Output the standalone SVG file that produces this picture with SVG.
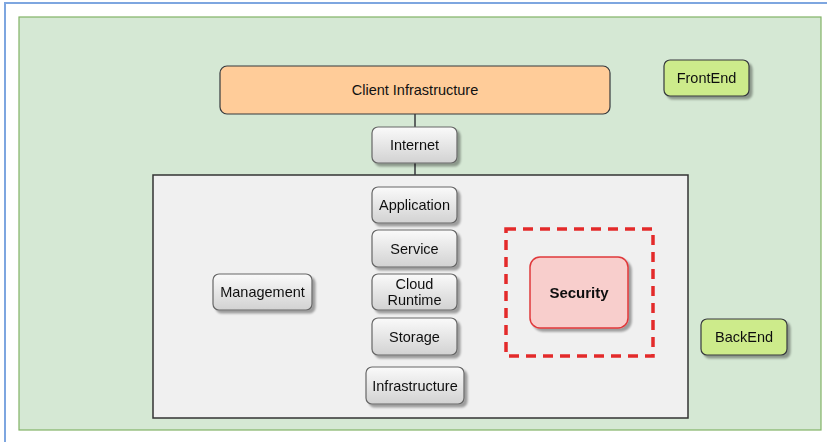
<svg xmlns="http://www.w3.org/2000/svg" width="827" height="442" viewBox="0 0 827 442">
<defs>
<linearGradient id="gray" x1="0" y1="0" x2="0" y2="1">
<stop offset="0" stop-color="#fafafa"/>
<stop offset="1" stop-color="#d2d2d2"/>
</linearGradient>
<filter id="sh" x="-20%" y="-20%" width="150%" height="160%">
<feGaussianBlur in="SourceAlpha" stdDeviation="1.2"/>
<feOffset dx="2.5" dy="3" result="b"/>
<feComponentTransfer><feFuncA type="linear" slope="0.35"/></feComponentTransfer>
<feMerge><feMergeNode/><feMergeNode in="SourceGraphic"/></feMerge>
</filter>
</defs>
<style>
.t{font-family:"Liberation Sans",Arial,sans-serif;font-size:14.5px;fill:#111;text-anchor:middle;dominant-baseline:central}
.g{fill:url(#gray);stroke:#666;stroke-width:1.2}
.gr{fill:#cdeb8b;stroke:#36393d;stroke-width:1.2}
.c{stroke:#36393d;stroke-width:1.5;fill:none}
</style>
<rect x="5" y="3" width="830" height="445" fill="#fff" stroke="#7ea6e0" stroke-width="2"/>
<g id="frontend-zone"><rect x="19" y="17" width="802" height="413" fill="#d5e8d4" stroke="#82b366" stroke-width="1.2"/></g>
<g id="backend-zone"><rect x="153" y="175" width="535" height="243" fill="#f0f0f0" stroke="#333" stroke-width="1.5"/></g>
<g id="connectors">
<path class="c" d="M415 114V127"/>
<path class="c" d="M415 163V175"/>
</g>
<g id="client"><rect x="220" y="66" width="390" height="48" rx="7" fill="#ffcc99" stroke="#36393d" stroke-width="1.2"/><text class="t" x="415" y="90">Client Infrastructure</text></g>
<g id="internet" filter="url(#sh)"><rect class="g" x="372" y="127" width="85" height="36" rx="6"/><text class="t" x="414.5" y="145">Internet</text></g>
<g id="frontend" filter="url(#sh)"><rect class="gr" x="664" y="60" width="85" height="36" rx="6"/><text class="t" x="706.5" y="78">FrontEnd</text></g>
<g id="application" filter="url(#sh)"><rect class="g" x="372" y="187" width="85" height="36" rx="6"/><text class="t" x="414.5" y="205">Application</text></g>
<g id="service" filter="url(#sh)"><rect class="g" x="372" y="230" width="85" height="37" rx="6"/><text class="t" x="414.5" y="248.5">Service</text></g>
<g id="cloud-runtime" filter="url(#sh)"><rect class="g" x="372" y="274" width="85" height="36" rx="6"/><text class="t" x="414.5" y="284">Cloud</text><text class="t" x="414.5" y="300">Runtime</text></g>
<g id="management" filter="url(#sh)"><rect class="g" x="213" y="274" width="99" height="36" rx="6"/><text class="t" x="262.5" y="292">Management</text></g>
<g id="storage" filter="url(#sh)"><rect class="g" x="372" y="318" width="85" height="37" rx="6"/><text class="t" x="414.5" y="336.5">Storage</text></g>
<g id="infrastructure" filter="url(#sh)"><rect class="g" x="366" y="367" width="98" height="37" rx="6"/><text class="t" x="415" y="385.5">Infrastructure</text></g>
<g id="security-zone"><rect x="506" y="229" width="147" height="127" fill="none" stroke="#e32a2a" stroke-width="3.5" stroke-dasharray="10 7"/></g>
<g id="security" filter="url(#sh)"><rect x="530" y="257" width="98" height="71" rx="10" fill="#f8cecc" stroke="#e0393b" stroke-width="1.5"/><text class="t" x="579" y="292.5" font-weight="bold" font-size="15px" style="font-size:15px">Security</text></g>
<g id="backend" filter="url(#sh)"><rect class="gr" x="701" y="319" width="86" height="36" rx="6"/><text class="t" x="744" y="337">BackEnd</text></g>
</svg>
